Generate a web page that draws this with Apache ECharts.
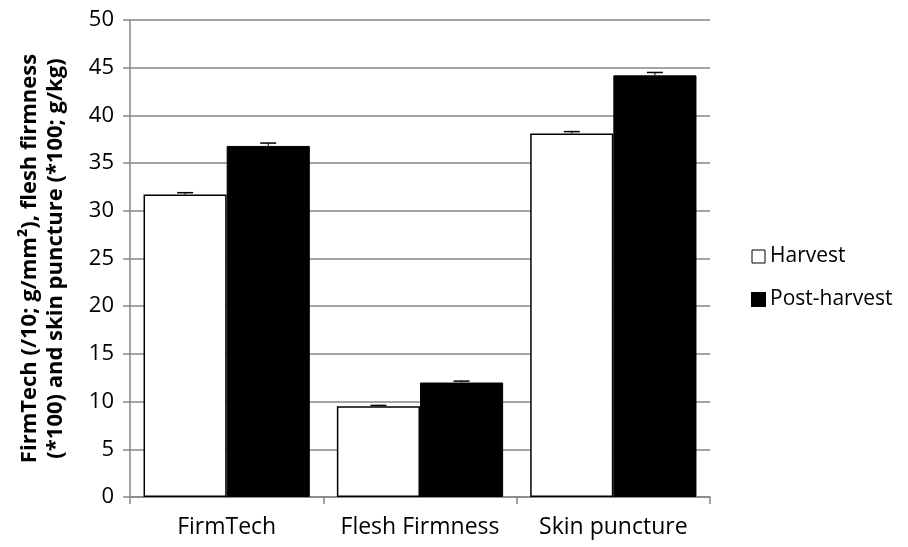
<!DOCTYPE html>
<html><head><meta charset="utf-8">
<script src="https://cdn.jsdelivr.net/npm/echarts@6/dist/echarts.min.js"></script>
<style>html,body{margin:0;padding:0;background:#fff}#c{width:908px;height:547px}</style>
</head><body><div id="c"></div>
<script>
var categories = ['FirmTech', 'Flesh Firmness', 'Skin puncture'];
var harvest = [31.7, 9.5, 38.1];
var harvestErr = [0.2, 0.1, 0.2];
var postHarvest = [36.8, 12.0, 44.2];
var postHarvestErr = [0.3, 0.15, 0.3];
var yTicks = {min: 0, max: 50, interval: 5};

var chart = echarts.init(document.getElementById('c'));
var font = '"Open Sans", Lato, sans-serif';

function errSeries(vals, errs, idx) {
  var data = vals.map(function (v, i) { return [i, v, v + errs[i]]; });
  return {
    type: 'custom', silent: true, z: 5,
    renderItem: function (params, api) {
      var ci = api.value(0);
      var base = api.coord([ci, api.value(1)]);
      var top = api.coord([ci, api.value(2)]);
      var bw = api.size([1, 0])[0] * 0.86 / 2;
      var x = base[0] + (idx === 0 ? -bw / 2 : bw / 2);
      var cap = 8;
      return {type: 'group', children: [
        {type: 'line', shape: {x1: x, y1: base[1], x2: x, y2: top[1]}, style: {stroke: '#000', lineWidth: 1}},
        {type: 'line', shape: {x1: x - cap, y1: top[1], x2: x + cap, y2: top[1]}, style: {stroke: '#000', lineWidth: 1.5}}
      ]};
    },
    encode: {x: 0, y: [1, 2]},
    data: data
  };
}

chart.setOption({
  animation: false,
  textStyle: {fontFamily: font},
  grid: {left: 130, right: 198, top: 20, bottom: 50},
  legend: {
    orient: 'vertical', left: 746, top: 241, itemGap: 22, itemSpacing: 4,
    itemWidth: 13, itemHeight: 13, icon: 'rect',
    textStyle: {fontSize: 21, color: '#000', fontFamily: font},
    data: [
      {name: 'Harvest', itemStyle: {color: '#fff', borderColor: '#000', borderWidth: 1}},
      {name: 'Post-harvest'}
    ]
  },
  xAxis: {
    type: 'category', data: categories,
    axisLine: {lineStyle: {color: '#868686', width: 1.5}},
    axisTick: {show: true, length: 7, lineStyle: {color: '#868686', width: 1.5}},
    axisLabel: {fontSize: 23, color: '#000', margin: 19, interval: 0, hideOverlap: false, fontFamily: font}
  },
  yAxis: {
    type: 'value', min: yTicks.min, max: yTicks.max, interval: yTicks.interval,
    name: 'FirmTech (/10; g/mm²), flesh firmness\n(*100) and skin puncture (*100; g/kg)',
    nameLocation: 'middle', nameGap: 61,
    nameTextStyle: {fontSize: 22, fontWeight: 'bold', color: '#000', lineHeight: 26, fontFamily: font},
    axisLine: {show: true, lineStyle: {color: '#868686', width: 1.5}},
    axisTick: {show: true, length: 7, lineStyle: {color: '#868686', width: 1.5}},
    axisLabel: {fontSize: 22, color: '#000', margin: 16, fontFamily: font},
    splitLine: {lineStyle: {color: '#868686', width: 1.5}}
  },
  series: [
    {name: 'Harvest', type: 'bar', data: harvest, barGap: '0%', barCategoryGap: '14%',
     itemStyle: {color: '#fff', borderColor: '#000', borderWidth: 1.5}},
    {name: 'Post-harvest', type: 'bar', data: postHarvest,
     itemStyle: {color: '#000', borderColor: '#000', borderWidth: 1}},
    errSeries(harvest, harvestErr, 0),
    errSeries(postHarvest, postHarvestErr, 1)
  ]
});
</script></body></html>
